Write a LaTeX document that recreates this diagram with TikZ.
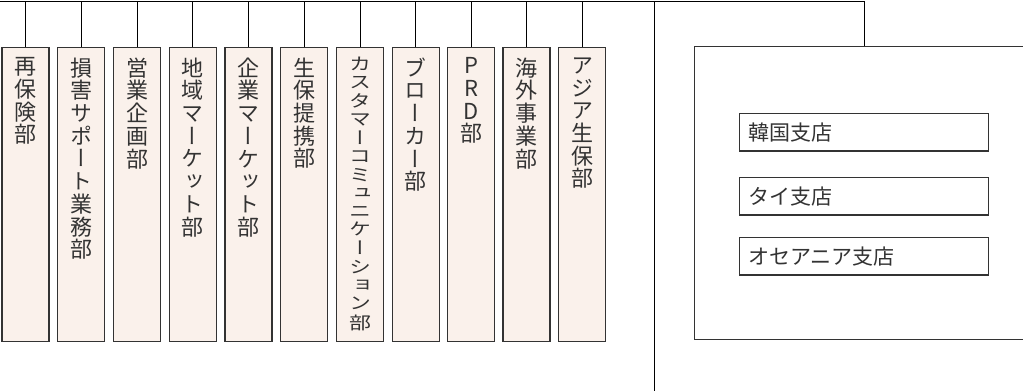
\documentclass[tikz,border=0pt]{standalone}
\usepackage{fontspec}
\usepackage{graphicx}
\newfontfamily\jp{Noto Sans CJK JP}
\newfontfamily\vjp[RawFeature=+vert]{Noto Sans CJK JP}
\definecolor{boxfill}{HTML}{FAF1EB}
\definecolor{linec}{HTML}{333333}
\definecolor{textc}{HTML}{333333}
\tikzset{
  dept/.style={draw=linec, fill=boxfill, line width=1.2pt, minimum width=47pt,
    minimum height=294pt, anchor=north, inner sep=0pt},
  vtext/.style={anchor=north, inner sep=0pt, align=center, text=textc,
    font=\vjp\fontsize{22}{22.7}\selectfont},
  branch/.style={draw=linec, line width=1.2pt, minimum width=249pt,
    minimum height=37.5pt, inner sep=0pt, anchor=north west},
  btext/.style={anchor=west, inner sep=0pt, text=textc,
    font=\jp\fontsize{21}{22}\selectfont},
  conn/.style={draw=black, line width=0.9pt},
}
\begin{document}
\begin{tikzpicture}[x=1pt,y=-1pt]
\useasboundingbox (0,0) rectangle (1023,391);
% department boxes
\node[dept] (d1) at (25.5,46.5) {};
\node[dept] (d2) at (81.3,46.5) {};
\node[dept] (d3) at (137.1,46.5) {};
\node[dept] (d4) at (192.8,46.5) {};
\node[dept] (d5) at (248.5,46.5) {};
\node[dept] (d6) at (304.2,46.5) {};
\node[dept] (d7) at (360.1,46.5) {};
\node[dept] (d8) at (415.7,46.5) {};
\node[dept] (d9) at (471.2,46.5) {};
\node[dept] (d10) at (526.4,46.5) {};
\node[dept] (d11) at (582.3,46.5) {};
% vertical labels
\node[vtext] (t1) at (25.5,57.5) {再\\保\\険\\部};
\node[vtext] (t2) at (81.3,57.5) {損\\害\\サ\\ポ\\ー\\ト\\業\\務\\部};
\node[vtext] (t3) at (137.1,57.5) {営\\業\\企\\画\\部};
\node[vtext] (t4) at (192.8,57.5) {地\\域\\マ\\ー\\ケ\\ッ\\ト\\部};
\node[vtext] (t5) at (248.5,57.5) {企\\業\\マ\\ー\\ケ\\ッ\\ト\\部};
\node[vtext] (t6) at (304.2,57.5) {生\\保\\提\\携\\部};
\node[vtext] (t7) at (360.1,57) {\scalebox{1}[0.79]{\begin{tabular}{@{}c@{}}カ\\ス\\タ\\マ\\ー\\コ\\ミ\\ュ\\ニ\\ケ\\ー\\シ\\ョ\\ン\\部\end{tabular}}};
\node[vtext] (t8) at (415.7,57.5) {ブ\\ロ\\ー\\カ\\ー\\部};
\node[vtext] (t9) at (471.2,57.5) {P\\R\\D\\部};
\node[vtext] (t10) at (526.4,57.5) {海\\外\\事\\業\\部};
\node[vtext] (t11) at (582.3,57.5) {ア\\ジ\\ア\\生\\保\\部};
% top line and connectors
\coordinate (tl) at (0,1);
\coordinate (tr) at (864.3,1);
\draw[conn] (tl) -- (tr);
\foreach \i in {1,...,11} {
  \draw[conn] (d\i.north) -- (d\i.north |- tl);
}
% vertical divider
\coordinate (vtop) at (654.7,1);
\coordinate (vbot) at (654.7,391);
\draw[conn] (vtop) -- (vbot);
% overseas box
\node[draw=linec, line width=1.2pt, minimum width=334pt, minimum height=293pt,
  inner sep=0pt, anchor=north west] (ov) at (693.5,46) {};
\draw[conn] (tr) -- (tr |- ov.north);
% branches
\node[branch] (b1) at (739,112.8) {};
\node[branch] (b2) at (739,176.8) {};
\node[branch] (b3) at (739,236.8) {};
\node[btext] at ([xshift=9pt]b1.west) {韓国支店};
\node[btext] at ([xshift=9pt]b2.west) {タイ支店};
\node[btext] at ([xshift=9pt]b3.west) {オセアニア支店};
\end{tikzpicture}
\end{document}
